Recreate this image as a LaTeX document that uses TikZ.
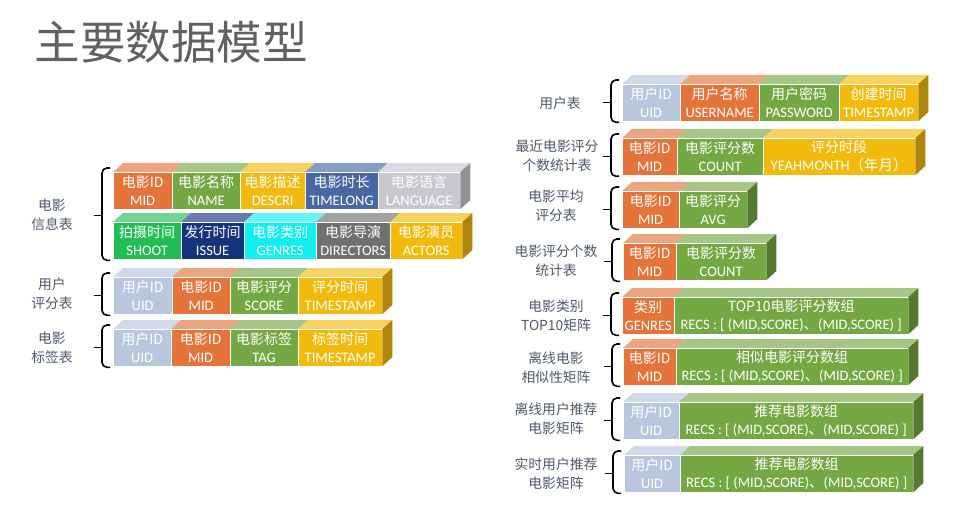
\documentclass[tikz,border=0pt]{standalone}
\usepackage{fontspec}
\setmainfont{Carlito}
\newfontfamily\cjk{Noto Sans CJK SC}
\usetikzlibrary{positioning,calc}

\definecolor{mvorange}{RGB}{228,116,58}
\definecolor{mvgreen}{RGB}{116,168,66}
\definecolor{mvyellow}{RGB}{242,186,12}
\definecolor{mvblue}{RGB}{72,104,164}
\definecolor{mvuid}{RGB}{184,198,222}
\definecolor{mvgrey}{RGB}{200,200,208}
\definecolor{mvshoot}{RGB}{34,190,84}
\definecolor{mvissue}{RGB}{22,52,124}
\definecolor{mvcyan}{RGB}{20,238,238}
\definecolor{mvdirect}{RGB}{112,112,112}
\definecolor{lblgrey}{RGB}{78,88,108}

% one field of a table: name, x, y (front top), width, colour, chinese, english
\newcommand{\dbcell}[7]{%
  \fill[#5!65!white] (#2,#3) -- ++(10,-9) -- ++(#4,0) -- ++(-10,9) -- cycle;
  \node[cell,fill=#5,minimum width=#4pt,anchor=north west] (#1) at (#2,#3) {{\cjk\fontsize{14}{18}\selectfont #6}\\#7};
}
% right side face of the last field
\newcommand{\dbend}[2]{%
  \fill[#2!72!black] (#1.north east) -- ++(10,-9) -- ++(0,37) -- (#1.south east) -- cycle;
}
% brace from first field of the top row to first field of the bottom row
\newcommand{\tabbrace}[2]{%
  \draw[brc] ([xshift=-3pt,yshift=4pt]#1.north west) -- ++(-8,0) |- ([xshift=-3pt,yshift=-1pt]#2.south west);
  \draw[brc] ($(#1.north west)!.5!(#2.south west)$) ++(-11,0) -- ++(-8,0);
}

\begin{document}
\begin{tikzpicture}[x=1pt,y=-1pt,
  cell/.style={draw=white,line width=0.3pt,text=white,inner sep=0pt,minimum height=37pt,
    align=center,font=\fontsize{14.5}{18}\selectfont},
  lbl/.style={text=lblgrey,align=center,font=\cjk\fontsize{13.8}{19}\selectfont},
  brc/.style={line width=1.6pt,rounded corners=5pt}]
\useasboundingbox (0,0) rectangle (955,513);

\node[anchor=west,text=black!62,font=\cjk\fontsize{45.5}{46}\selectfont] (title) at (31,42) {主要数据模型};

% Movie table
\dbcell{mid}{113}{172}{59}{mvorange}{电影ID}{MID}
\dbcell{name}{172}{172}{68}{mvgreen}{电影名称}{NAME}
\dbcell{descri}{240}{172}{65}{mvyellow}{电影描述}{DESCRI}
\dbcell{timelong}{305}{172}{73}{mvblue}{电影时长}{TIMELONG}
\dbcell{language}{378}{172}{82}{mvgrey}{电影语言}{LANGUAGE}
\dbend{language}{mvgrey}
\dbcell{shoot}{113}{222}{68}{mvshoot}{拍摄时间}{SHOOT}
\dbcell{issue}{181}{222}{63}{mvissue}{发行时间}{ISSUE}
\dbcell{genres}{244}{222}{72}{mvcyan}{电影类别}{GENRES}
\dbcell{directors}{316}{222}{74}{mvdirect}{电影导演}{DIRECTORS}
\dbcell{actors}{390}{222}{72}{mvyellow}{电影演员}{ACTORS}
\dbend{actors}{mvyellow}
\tabbrace{mid}{shoot}
\node[lbl] (movie) at (52,215) {电影\\信息表};

% Rating table
\dbcell{rtuid}{113}{277}{59}{mvuid}{用户ID}{UID}
\dbcell{rtmid}{172}{277}{58}{mvorange}{电影ID}{MID}
\dbcell{rtscore}{230}{277}{68}{mvgreen}{电影评分}{SCORE}
\dbcell{rtstamp}{298}{277}{84}{mvyellow}{评分时间}{TIMESTAMP}
\dbend{rtstamp}{mvyellow}
\tabbrace{rtuid}{rtuid}
\node[lbl] (rating) at (52,294) {用户\\评分表};

% Tag table
\dbcell{tguid}{113}{329}{58}{mvuid}{用户ID}{UID}
\dbcell{tgmid}{171}{329}{59}{mvorange}{电影ID}{MID}
\dbcell{tgtag}{230}{329}{68}{mvgreen}{电影标签}{TAG}
\dbcell{tgstamp}{298}{329}{84}{mvyellow}{标签时间}{TIMESTAMP}
\dbend{tgstamp}{mvyellow}
\tabbrace{tguid}{tguid}
\node[lbl] (tag) at (52,348) {电影\\标签表};

% User table
\dbcell{usuid}{622}{84}{58}{mvuid}{用户ID}{UID}
\dbcell{usname}{680}{84}{79}{mvorange}{用户名称}{USERNAME}
\dbcell{uspass}{759}{84}{80}{mvgreen}{用户密码}{PASSWORD}
\dbcell{usstamp}{839}{84}{79}{mvyellow}{创建时间}{TIMESTAMP}
\dbend{usstamp}{mvyellow}
\tabbrace{usuid}{usuid}
\node[lbl] (user) at (560,103) {用户表};

% Recent rating count
\dbcell{rcmid}{622}{138}{55}{mvorange}{电影ID}{MID}
\dbcell{rccount}{677}{138}{86}{mvgreen}{电影评分数}{COUNT}
\dbcell{rcmonth}{763}{138}{152}{mvyellow}{评分时段}{YEAHMONTH{\cjk （年月）}}
\dbend{rcmonth}{mvyellow}
\tabbrace{rcmid}{rcmid}
\node[lbl] (recent) at (557,156) {最近电影评分\\个数统计表};

% Average rating
\dbcell{avmid}{622}{191}{57}{mvorange}{电影ID}{MID}
\dbcell{avavg}{679}{191}{68}{mvgreen}{电影评分}{AVG}
\dbend{avavg}{mvgreen}
\tabbrace{avmid}{avmid}
\node[lbl] (average) at (556,206) {电影平均\\评分表};

% Rating count
\dbcell{ctmid}{623}{243}{53}{mvorange}{电影ID}{MID}
\dbcell{ctcount}{676}{243}{90}{mvgreen}{电影评分数}{COUNT}
\dbend{ctcount}{mvgreen}
\tabbrace{ctmid}{ctmid}
\node[lbl] (count) at (556,261) {电影评分个数\\统计表};

% Genre top10
\dbcell{gtgenre}{622}{297}{52}{mvorange}{类别}{GENRES}
\dbcell{gtrecs}{674}{297}{234}{mvgreen}{TOP10电影评分数组}{RECS : [ (MID,SCORE){\cjk 、}(MID,SCORE) ]}
\dbend{gtrecs}{mvgreen}
\tabbrace{gtgenre}{gtgenre}
\node[lbl] (genretop) at (556,316) {电影类别\\TOP10矩阵};

% Similar movies
\dbcell{smmid}{623}{348}{53}{mvorange}{电影ID}{MID}
\dbcell{smrecs}{676}{348}{232}{mvgreen}{相似电影评分数组}{RECS : [ (MID,SCORE){\cjk 、}(MID,SCORE) ]}
\dbend{smrecs}{mvgreen}
\tabbrace{smmid}{smmid}
\node[lbl] (similar) at (556,368) {离线电影\\相似性矩阵};

% Offline user recommendations
\dbcell{ofuid}{623}{402}{56}{mvuid}{用户ID}{UID}
\dbcell{ofrecs}{679}{402}{234}{mvgreen}{推荐电影数组}{RECS : [ (MID,SCORE){\cjk 、}(MID,SCORE) ]}
\dbend{ofrecs}{mvgreen}
\tabbrace{ofuid}{ofuid}
\node[lbl] (offline) at (556,419) {离线用户推荐\\电影矩阵};

% Realtime user recommendations
\dbcell{rluid}{624}{455}{56}{mvuid}{用户ID}{UID}
\dbcell{rlrecs}{680}{455}{233}{mvgreen}{推荐电影数组}{RECS : [ (MID,SCORE){\cjk 、}(MID,SCORE) ]}
\dbend{rlrecs}{mvgreen}
\tabbrace{rluid}{rluid}
\node[lbl] (realtime) at (556,474) {实时用户推荐\\电影矩阵};
\end{tikzpicture}
\end{document}
